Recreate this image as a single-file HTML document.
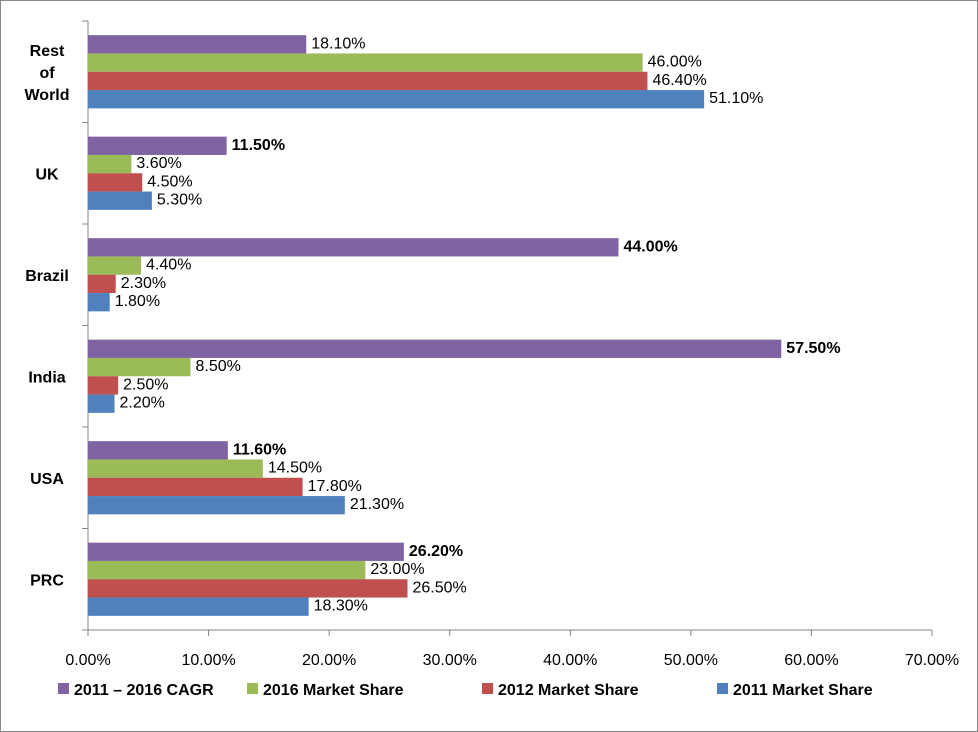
<!DOCTYPE html>
<html><head><meta charset="utf-8"><style>
body{margin:0;background:#fff;}
svg{display:block;font-family:"Liberation Sans",sans-serif;}
</style></head><body>
<svg id="chart" width="978" height="732" viewBox="0 0 978 732">
<rect x="0.5" y="0.5" width="977" height="731" fill="#fff" stroke="#868686"/>
<g id="plot"></g>
</svg>
<script>
const categories = ["Rest of World","UK","Brazil","India","USA","PRC"];
const seriesNames = ["2011 \u2013 2016 CAGR","2016 Market Share","2012 Market Share","2011 Market Share"];
const cagr = [18.1,11.5,44.0,57.5,11.6,26.2];
const share2016 = [46.0,3.6,4.4,8.5,14.5,23.0];
const share2012 = [46.4,4.5,2.3,2.5,17.8,26.5];
const share2011 = [51.1,5.3,1.8,2.2,21.3,18.3];
const ticks = [0,10,20,30,40,50,60,70];
const boldLabels = [false,true,true,true,true,true];

const series=[cagr,share2016,share2012,share2011];
const colors=["#8064A2","#9BBB59","#C0504D","#4F81BD"];
const NS="http://www.w3.org/2000/svg";
const g=document.getElementById('plot');
const x0=88,x1=932,yTop=21,yBot=630,xMax=70;
const xs=v=>x0+(v/xMax)*(x1-x0);
const band=(yBot-yTop)/categories.length;
const barH=18.3;
function el(t,a){const e=document.createElementNS(NS,t);for(const k in a)e.setAttribute(k,a[k]);g.appendChild(e);return e;}
function tx(x,y,s,a){const e=el('text',Object.assign({x:x,y:y,'font-size':16,fill:'#000'},a));e.textContent=s;return e;}
const ax=el('line',{x1:x0,y1:yTop,x2:x0,y2:yBot,stroke:'#868686'});

const bx=el('line',{x1:x0,y1:yBot,x2:x1,y2:yBot,stroke:'#868686'});

ticks.forEach(t=>{
  const l=el('line',{x1:xs(t),y1:yBot,x2:xs(t),y2:yBot+6,stroke:'#868686'});
  
  const e=tx(xs(t),yBot+35,t.toFixed(2)+'%',{'text-anchor':'middle'});
  
});
for(let i=0;i<=categories.length;i++){
  const l=el('line',{x1:x0-6,y1:yTop+i*band,x2:x0,y2:yTop+i*band,stroke:'#868686'});
  
}
categories.forEach((c,i)=>{
  const cy=yTop+i*band+band/2;
  const words=c==="Rest of World"?["Rest","of","World"]:[c];
  words.forEach((w,j)=>{
    const e=tx(47,cy+6+(j-(words.length-1)/2)*22,w,{'text-anchor':'middle','font-weight':'bold'});
    
  });
  const top=cy-2*barH;
  series.forEach((s,k)=>{
    const y=top+k*barH;
    const r=el('rect',{x:x0,y:y,width:xs(s[i])-x0,height:barH,fill:colors[k]});
    
    const b=(k===0&&boldLabels[i]);
    const e=tx(xs(s[i])+5,y+barH/2+4,s[i].toFixed(2)+'%',b?{'font-weight':'bold'}:{});
    
  });
});
const lx=[58,247,482,717];
seriesNames.forEach((n,k)=>{
  const r=el('rect',{x:lx[k],y:683,width:11,height:11,fill:colors[k]});
  
  const e=tx(lx[k]+16,695,n,{'font-weight':'bold'});
  
});
</script>
</body></html>
